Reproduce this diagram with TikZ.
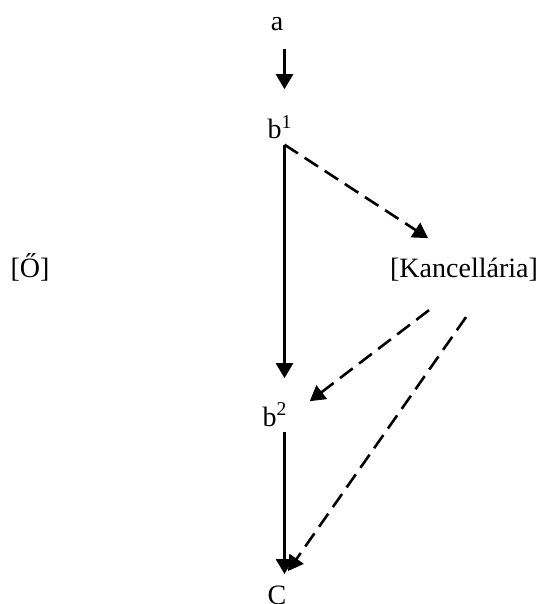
\documentclass[tikz,border=0pt]{standalone}
\usepackage{fontspec}
\setmainfont{Liberation Serif}
\usepackage{tikz}
\usetikzlibrary{positioning, arrows.meta, calc}
\tikzset{
    cimke/.style={inner sep=0pt, anchor=base, font=\fontsize{14}{17}\selectfont},
    nyil/.style={-{Triangle[length=7.5pt, width=8.5pt]}, line width=1.3pt, black},
    nyil_szagg/.style={nyil, dash pattern=on 8pt off 4pt}
}
\begin{document}
\begin{tikzpicture}[x=0.5pt, y=-0.5pt]
    % Keret (a kep meretei)
    \useasboundingbox (0,0) rectangle (541,604);

    % 1. Fo tengely
    \node[cimke] (a) at (277,31) {a};
    \node[cimke] (b1) at (280,139) {b\textsuperscript{1}};
    \node[cimke] (b2) at (275,426) {b\textsuperscript{2}};
    \node[cimke] (c) at (277,604) {C};

    % 2. Oldalso nodok
    \node[cimke] (o) at (30,277) {[Ő]};
    \node[cimke] (kanc) at (464,277) {[Kancellária]};

    % --- KAPCSOLATOK ---
    \coordinate (gerinc) at (284.5,0);

    % Folytonos nyilak lefele
    \draw[nyil] ($(a.south -| gerinc)+(0,17)$) -- ($(b1.north -| gerinc)+(0,-26)$);
    \draw[nyil] ($(b1.south -| gerinc)+(0,5)$) -- ($(b2.north -| gerinc)+(0,-24)$);
    \draw[nyil] ($(b2.south -| gerinc)+(0,5)$) -- ($(c.north -| gerinc)+(0,-11)$);

    % Szaggatott nyilak a Kancellarian at
    \draw[nyil_szagg] ($(b1.south -| gerinc)+(0,5)$) -- ($(kanc.north)+(-36,-19)$);
    \draw[nyil_szagg] ($(kanc.south)+(-35,29)$) -- ($(b2.north east)+(22,-1)$);
    \draw[nyil_szagg] ($(kanc.south)+(2,36)$) -- ($(c.north)+(11,-14)$);

\end{tikzpicture}
\end{document}
